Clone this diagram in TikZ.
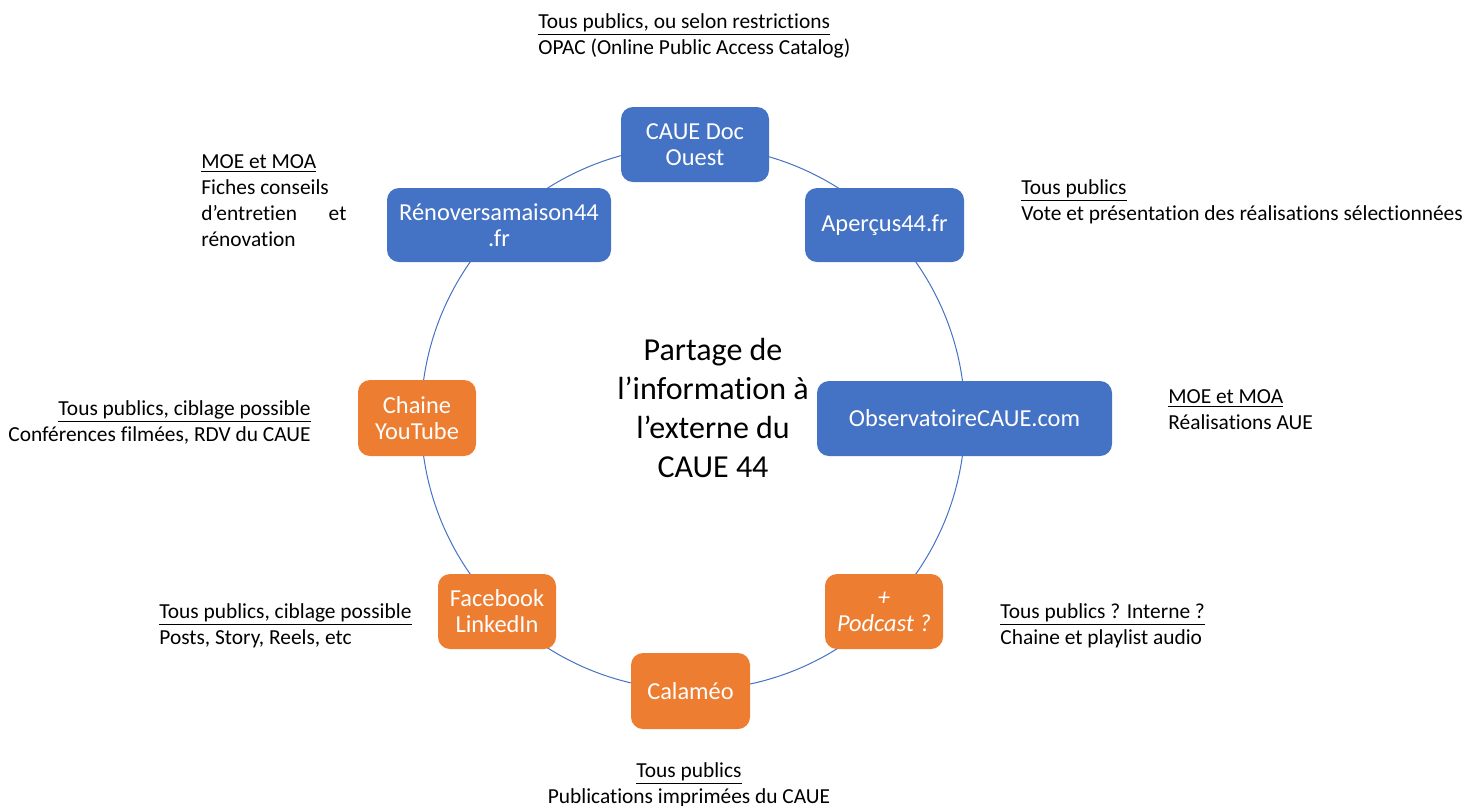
\documentclass[tikz,border=0pt]{standalone}
\usepackage{fontspec}
\setmainfont{Carlito}[Ligatures=NoCommon]
\definecolor{bleu}{HTML}{4472C4}
\definecolor{orange}{HTML}{ED7D31}
\tikzset{
  bloc/.style={rounded corners=6pt, text=white, align=center, inner sep=0pt,
    font=\fontsize{12.2}{13}\selectfont},
  bleubloc/.style={bloc, fill=bleu},
  orangebloc/.style={bloc, fill=orange},
  note/.style={inner sep=0pt, align=left, font=\fontsize{10.7}{13}\selectfont}
}
\begin{document}
\begin{tikzpicture}[x=0.5pt, y=-0.5pt]
    \useasboundingbox (0, 0) rectangle (1474, 805);

    % le cercle
    \coordinate (centre) at (693, 418);
    \draw[bleu, line width=0.5pt] (centre) circle (136pt);

    % les sites
    \node[bleubloc, minimum width=74pt, minimum height=37.5pt] (doc) at (695, 144.5) {CAUE Doc\\Ouest};
    \node[bleubloc, minimum width=79.5pt, minimum height=37pt] (apercus) at (884.5, 225) {Aperçus44.fr};
    \node[bleubloc, minimum width=147.5pt, minimum height=37.5pt] (obs) at (964.5, 418.5) {ObservatoireCAUE.com};
    \node[orangebloc, minimum width=59pt, minimum height=37.5pt, font=\fontsize{12.2}{13}\selectfont\itshape] (podcast) at (884, 611.5) {+\\Podcast ?};
    \node[orangebloc, minimum width=59.5pt, minimum height=38pt] (calameo) at (690.5, 691) {Calaméo};
    \node[orangebloc, minimum width=59pt, minimum height=37.5pt] (facebook) at (497, 611.5) {Facebook\\LinkedIn};
    \node[orangebloc, minimum width=59pt, minimum height=38pt] (youtube) at (417, 418) {Chaine\\YouTube};
    \node[bleubloc, minimum width=112pt, minimum height=37pt] (renov) at (499, 225) {Rénoversamaison44\\.fr};

    \node[align=center, inner sep=0pt, font=\fontsize{16}{19.5}\selectfont] (titre) at (713, 408)
      {Partage de\\l’information à\\l’externe du\\CAUE 44};

    % les publics
    \node[note, anchor=north west] (ndoc) at (538, 13)
      {\underline{Tous publics, ou selon restrictions}\\OPAC (Online Public Access Catalog)};
    \node[note, anchor=north west] (nrenov) at (201, 154)
      {\underline{MOE et MOA}\\Fiches conseils\\\makebox[72.5pt][s]{d’entretien\hfill et}\\rénovation};
    \node[note, anchor=north west] (napercus) at (1021, 179)
      {\underline{Tous publics}\\Vote et présentation des réalisations sélectionnées};
    \node[note, anchor=north west] (nobs) at (1168, 389)
      {\underline{MOE et MOA}\\Réalisations AUE};
    \node[note, align=right, anchor=north east] (nyoutube) at (311, 400)
      {\underline{Tous publics, ciblage possible}\\Conférences filmées, RDV du CAUE};
    \node[note, anchor=north west] (nfacebook) at (159, 603)
      {\underline{Tous publics, ciblage possible}\\Posts, Story, Reels, etc};
    \node[note, anchor=north west] (npodcast) at (1000, 603)
      {\underline{Tous publics ? Interne ?}\\Chaine et playlist audio};
    \node[note, align=center, anchor=north] (ncalameo) at (689, 762)
      {\underline{Tous publics}\\Publications imprimées du CAUE};
\end{tikzpicture}
\end{document}
